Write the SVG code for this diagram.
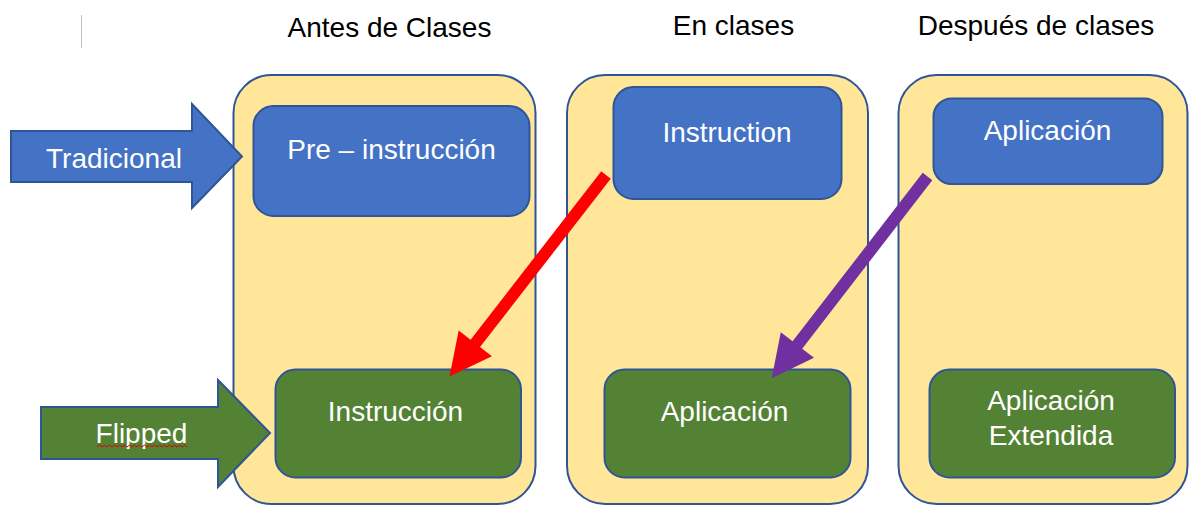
<svg xmlns="http://www.w3.org/2000/svg" width="1189" height="506" viewBox="0 0 1189 506">
<style>
.col{fill:#FFE699;stroke:#2F5597;stroke-width:2}
.blue{fill:#4472C4;stroke:#2F5597;stroke-width:2}
.green{fill:#548235;stroke:#2F5597;stroke-width:2}
.hdr{font-family:"Liberation Sans",Arial,sans-serif;font-size:28px;fill:#000;text-anchor:middle}
.lbl{font-family:"Liberation Sans",Arial,sans-serif;font-size:28px;fill:#FFFFFF;text-anchor:middle}
</style>
<rect width="1189" height="506" fill="#FFFFFF"/>
<line x1="81.5" y1="15" x2="81.5" y2="48" stroke="#BFBFBF" stroke-width="1"/>
<g id="headers">
<text class="hdr" x="389.5" y="37">Antes de Clases</text>
<text class="hdr" x="733.5" y="35">En clases</text>
<text class="hdr" x="1036" y="35">Después de clases</text>
</g>
<g id="col-antes"><rect class="col" x="233.5" y="75" width="302" height="429" rx="38" ry="38"/></g>
<g id="col-en"><rect class="col" x="567" y="75" width="301" height="429" rx="38" ry="38"/></g>
<g id="col-despues"><rect class="col" x="898.5" y="75" width="289" height="429" rx="38" ry="38"/></g>
<g id="node-preinstruccion"><rect class="blue" x="253.5" y="106" width="276" height="110" rx="20" ry="20"/><text class="lbl" x="391.5" y="159">Pre – instrucción</text></g>
<g id="node-instruction"><rect class="blue" x="613.5" y="87" width="228" height="112" rx="20" ry="20"/><text class="lbl" x="727" y="141.5">Instruction</text></g>
<g id="node-aplicacion-despues"><rect class="blue" x="933.5" y="98.5" width="229" height="85.5" rx="18" ry="18"/><text class="lbl" x="1047.5" y="140">Aplicación</text></g>
<g id="node-instruccion"><rect class="green" x="275.5" y="369.5" width="245.5" height="108" rx="20" ry="20"/><text class="lbl" x="395.5" y="420.5">Instrucción</text></g>
<g id="node-aplicacion-en"><rect class="green" x="604.5" y="369.5" width="246" height="108" rx="20" ry="20"/><text class="lbl" x="724.5" y="420.5">Aplicación</text></g>
<g id="node-aplicacion-extendida"><rect class="green" x="929.5" y="369.5" width="245.5" height="108" rx="20" ry="20"/><text class="lbl" x="1051" y="410">Aplicación</text><text class="lbl" x="1051" y="445">Extendida</text></g>
<g id="node-tradicional"><polygon class="blue" points="11,131 192,131 192,104 242,156.5 192,208 192,182 11,182"/><text class="lbl" x="114" y="168">Tradicional</text></g>
<g id="node-flipped"><polygon class="green" points="41,407 218,407 218,380 270,433 218,487 218,459 41,459"/><text class="lbl" x="141.5" y="442.5">Flipped</text><path d="M97,447 l2.5,-2 l2.5,2 l2.5,-2 l2.5,2 l2.5,-2 l2.5,2 l2.5,-2 l2.5,2 l2.5,-2 l2.5,2 l2.5,-2 l2.5,2 l2.5,-2 l2.5,2 l2.5,-2 l2.5,2 l2.5,-2 l2.5,2 l2.5,-2 l2.5,2 l2.5,-2 l2.5,2 l2.5,-2 l2.5,2 l2.5,-2 l2.5,2 l2.5,-2 l2.5,2 l2.5,-2 l2.5,2 l2.5,-2 l2.5,2 l2.5,-2 l2.5,2 l2.5,-2 l2.5,2" fill="none" stroke="#E00000" stroke-width="1"/></g>
<g id="connectors">
<polygon fill="#FF0000" points="601.3,171.3 610.7,178.7 480,347.1 491.9,356.3 449.5,376.5 458.7,330.5 470.6,339.7"/>
<polygon fill="#7030A0" points="922.7,172.8 932.3,180.2 802.2,348.7 814,357.8 771.7,378.3 780.8,332.2 792.6,341.3"/>
</g>
</svg>
